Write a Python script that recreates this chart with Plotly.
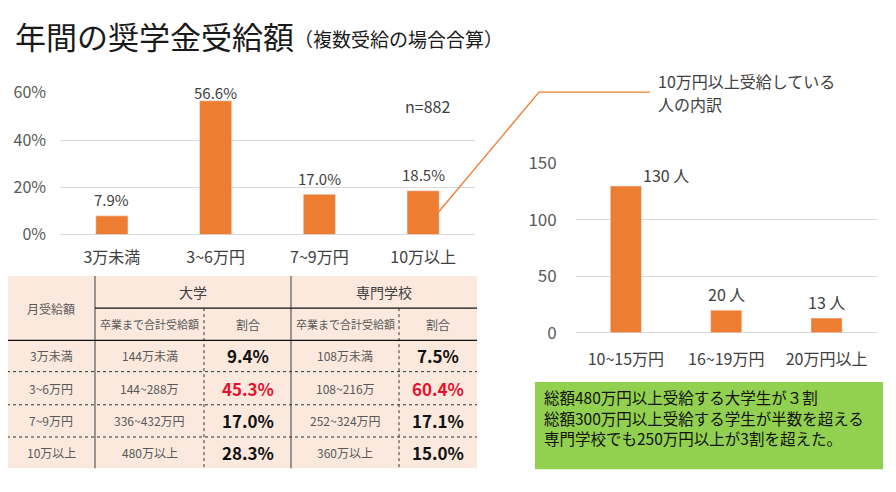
import plotly.graph_objects as go

# page body keeps its default 8px margin, so the figure is drawn 8px in
OFF = 8
W, H = 896 - 2 * OFF, 492 - 2 * OFF
FONT = "Noto Sans CJK JP"
ORANGE = "#ED7D31"
GRID = "#D9D9D9"
TXT = "#404040"

# 年間の奨学金受給額 (複数受給の場合合算), n=882
amount_cats = ["3万未満", "3~6万円", "7~9万円", "10万以上"]
amount_share = [0.079, 0.566, 0.170, 0.185]
sample_note = "n=882"

# 10万円以上受給している人の内訳
detail_title = ["10万円以上受給している", "人の内訳"]
detail_cats = ["10~15万円", "16~19万円", "20万円以上"]
detail_people = [130, 20, 13]

# table
tbl_head = "月受給額"
tbl_groups = ["大学", "専門学校"]
tbl_sub = ["卒業まで合計受給額", "割合"]
tbl_rows = ["3万未満", "3~6万円", "7~9万円", "10万以上"]
univ_total = ["144万未満", "144~288万", "336~432万円", "480万以上"]
univ_share = [0.094, 0.453, 0.170, 0.283]
voc_total = ["108万未満", "108~216万", "252~324万円", "360万以上"]
voc_share = [0.075, 0.604, 0.171, 0.150]
highlight_row = 1

notes = [
    "総額480万円以上受給する大学生が３割",
    "総額300万円以上受給する学生が半数を超える",
    "専門学校でも250万円以上が3割を超えた。",
]


def px(x):
    return (x - OFF) / W


def py(y):
    return 1 - (y - OFF) / H


fig = go.Figure()

fig.add_trace(go.Bar(x=amount_cats, y=amount_share, marker_color=ORANGE,
                     width=0.31, xaxis="x", yaxis="y", hoverinfo="skip"))
fig.add_trace(go.Bar(x=detail_cats, y=detail_people, marker_color=ORANGE,
                     width=0.31, xaxis="x2", yaxis="y2", hoverinfo="skip"))

ann = []
# bar labels
for c, v in zip(amount_cats, amount_share):
    ann.append(dict(x=c, y=v, xref="x", yref="y", text=f"{v*100:.1f}%",
                    showarrow=False, yanchor="middle", yshift=16 if v < 0.5 else 8,
                    font=dict(size=15, color=TXT)))
for c, v in zip(detail_cats, detail_people):
    top = v > 120
    ann.append(dict(x=c, y=v, xref="x2", yref="y2", text=f"{v} 人",
                    showarrow=False, yanchor="middle",
                    yshift=11 if top else 16, xshift=40 if top else 0,
                    font=dict(size=16, color=TXT)))

# titles
ann.append(dict(x=px(13), y=py(22), xref="paper", yref="paper", text="年間の奨学金受給額",
                showarrow=False, xanchor="left", yanchor="middle",
                font=dict(size=31, color="#1a1a1a")))
ann.append(dict(x=px(292), y=py(25), xref="paper", yref="paper", text="（複数受給の場合合算）",
                showarrow=False, xanchor="left", yanchor="middle",
                font=dict(size=19, color="#1a1a1a")))
ann.append(dict(x=px(427), y=py(82), xref="paper", yref="paper", text=sample_note,
                showarrow=False, font=dict(size=16, color=TXT)))
for i, t in enumerate(detail_title):
    ann.append(dict(x=px(656), y=py(70.5 + 24 * i), xref="paper", yref="paper", text=t,
                    showarrow=False, xanchor="left", yanchor="middle",
                    font=dict(size=16, color=TXT)))

# connector line
shapes = [dict(type="path", xref="paper", yref="paper",
               path=f"M {px(439)},{py(208)} L {px(539)},{py(82)} L {px(650)},{py(82)}",
               line=dict(color=ORANGE, width=1.3))]

# ---- table ----
col_edges = [7, 95, 204, 291, 399, 477]
row_edges = [276, 310, 344, 377, 412, 446, 479]
LINE = "#595959"
shapes.append(dict(type="rect", xref="paper", yref="paper", layer="below",
                   x0=px(col_edges[0]), x1=px(col_edges[-1]),
                   y0=py(row_edges[0]), y1=py(row_edges[-1]),
                   fillcolor="#FBE9DE", line_width=0))
for xe in (col_edges[1], col_edges[3]):
    shapes.append(dict(type="line", xref="paper", yref="paper",
                       x0=px(xe), x1=px(xe), y0=py(row_edges[0]), y1=py(row_edges[-1]),
                       line=dict(color=LINE, width=1.2)))
for xe in (col_edges[2], col_edges[4]):
    shapes.append(dict(type="line", xref="paper", yref="paper",
                       x0=px(xe), x1=px(xe), y0=py(row_edges[1]), y1=py(row_edges[-1]),
                       line=dict(color="#333333", width=1, dash="dot")))
shapes.append(dict(type="line", xref="paper", yref="paper",
                   x0=px(col_edges[1]), x1=px(col_edges[-1]), y0=py(row_edges[1]), y1=py(row_edges[1]),
                   line=dict(color="#111111", width=1.3)))
shapes.append(dict(type="line", xref="paper", yref="paper",
                   x0=px(col_edges[0]), x1=px(col_edges[-1]), y0=py(row_edges[2]), y1=py(row_edges[2]),
                   line=dict(color="#111111", width=1.3)))
for ye in row_edges[3:-1]:
    shapes.append(dict(type="line", xref="paper", yref="paper",
                       x0=px(col_edges[0]), x1=px(col_edges[-1]), y0=py(ye), y1=py(ye),
                       line=dict(color="#333333", width=1, dash="dot")))


def cell(text, c0, c1, r0, r1, size, color="#595959", bold=False):
    xc = (col_edges[c0] + col_edges[c1]) / 2
    yc = (row_edges[r0] + row_edges[r1]) / 2
    t = f"<b>{text}</b>" if bold else text
    ann.append(dict(x=px(xc), y=py(yc), xref="paper", yref="paper", text=t,
                    showarrow=False, xanchor="center", yanchor="middle",
                    font=dict(size=size, color=color)))


cell(tbl_head, 0, 1, 0, 2, 12)
cell(tbl_groups[0], 1, 3, 0, 1, 14, TXT)
cell(tbl_groups[1], 3, 5, 0, 1, 14, TXT)
for g in range(2):
    cell(tbl_sub[0], 1 + 2 * g, 2 + 2 * g, 1, 2, 11)
    cell(tbl_sub[1], 2 + 2 * g, 3 + 2 * g, 1, 2, 12)
for i, lab in enumerate(tbl_rows):
    r = i + 2
    pc = "#E8112D" if i == highlight_row else "#111111"
    cell(lab, 0, 1, r, r + 1, 12)
    cell(univ_total[i], 1, 2, r, r + 1, 12)
    cell(f"{univ_share[i]*100:.1f}%", 2, 3, r, r + 1, 17, pc, True)
    cell(voc_total[i], 3, 4, r, r + 1, 12)
    cell(f"{voc_share[i]*100:.1f}%", 4, 5, r, r + 1, 17, pc, True)

# ---- note box ----
shapes.append(dict(type="rect", xref="paper", yref="paper", layer="below",
                   x0=px(535), x1=px(883), y0=py(388), y1=py(480),
                   fillcolor="#92D050", line_width=0))
for i, t in enumerate(notes):
    ann.append(dict(x=px(542), y=py(404 + 21.5 * i), xref="paper", yref="paper", text=t,
                    showarrow=False, xanchor="left", yanchor="middle",
                    font=dict(size=15.5, color="#111111")))

axis_common = dict(showline=False, ticks="", fixedrange=True)
fig.update_layout(
    width=W, height=H,
    margin=dict(l=0, r=0, t=0, b=0),
    paper_bgcolor="white", plot_bgcolor="white",
    showlegend=False,
    font=dict(family=FONT, color=TXT),
    xaxis=dict(domain=[px(60), px(475)], type="category", range=[-0.5, 3.5],
               showgrid=False, zeroline=False, ticklabelstandoff=11,
               tickfont=dict(size=16, color=TXT), **axis_common),
    yaxis=dict(domain=[py(232.3), py(82.7)], range=[0, 0.6], dtick=0.2, tickformat=".0%",
               gridcolor=GRID, zeroline=True, zerolinecolor=GRID, zerolinewidth=1,
               ticklabelstandoff=13,
               tickfont=dict(size=16, color="#595959"), anchor="x", **axis_common),
    xaxis2=dict(domain=[px(575.7), px(876.7)], type="category", range=[-0.5, 2.5],
                showgrid=False, zeroline=False, anchor="y2", ticklabelstandoff=15,
                tickfont=dict(size=16, color=TXT), **axis_common),
    yaxis2=dict(domain=[py(336), py(157.3)], range=[0, 150], dtick=50,
                gridcolor=GRID, zeroline=True, zerolinecolor=GRID, zerolinewidth=1,
                anchor="x2", ticklabelstandoff=18,
                tickfont=dict(size=17, color="#595959"), **axis_common),
    annotations=ann,
    shapes=shapes,
)

fig.write_html("out.html")
